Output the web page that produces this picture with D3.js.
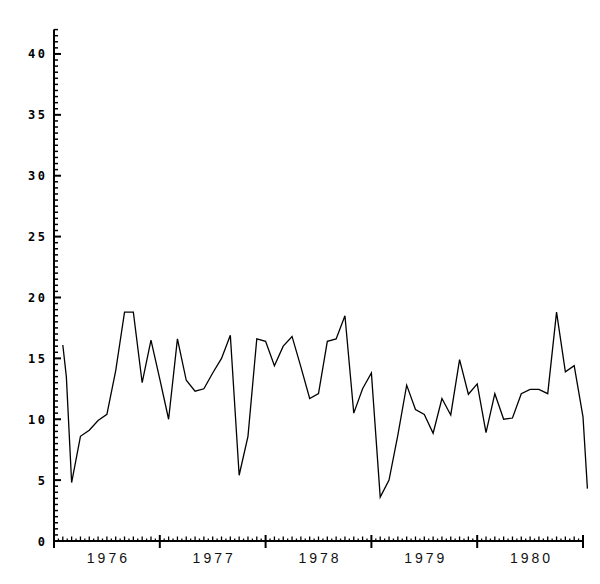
<!DOCTYPE html>
<html>
<head>
<meta charset="utf-8">
<script src="https://cdn.jsdelivr.net/npm/d3@7"></script>
<style>
  html, body { margin: 0; padding: 0; background: #fff; }
  svg { display: block; }
</style>
</head>
<body>
<svg id="chart" width="600" height="584"></svg>
<script>
// Months since January 1976 (end of month positions)
const months = [1, 1.4, 2, 3, 4, 5, 6, 7, 8, 9, 10, 11, 12,
  13, 14, 15, 16, 17, 18, 19, 20, 21, 22, 23, 24,
  25, 26, 27, 28, 29, 30, 31, 32, 33, 34, 35, 36,
  37, 38, 39, 40, 41, 42, 43, 44, 45, 46, 47, 48,
  49, 50, 51, 52, 53, 54, 55, 56, 57, 58, 59, 60, 60.5];
const values = [16.1, 13.5, 4.8, 8.6, 9.1, 9.9, 10.4, 14.0, 18.8, 18.8, 13.0, 16.5, 13.3,
  10.0, 16.6, 13.2, 12.3, 12.5, 13.8, 15.0, 16.9, 5.4, 8.6, 16.6, 16.4,
  14.4, 16.0, 16.8, 14.3, 11.7, 12.1, 16.4, 16.6, 18.5, 10.5, 12.5, 13.8,
  3.6, 5.0, 8.7, 12.8, 10.8, 10.4, 8.85, 11.7, 10.35, 14.9, 12.05, 12.9,
  8.9, 12.1, 10.0, 10.1, 12.1, 12.45, 12.45, 12.1, 18.8, 13.9, 14.4, 10.2, 4.3];
const years = ["1976", "1977", "1978", "1979", "1980"];
const yTickLabels = [0, 5, 10, 15, 20, 25, 30, 35, 40];

const svg = d3.select("#chart");
const x = d3.scaleLinear().domain([0, 60]).range([54, 583]);
const y = d3.scaleLinear().domain([0, 42]).range([541, 29.6]);

// Y axis: line, minor ticks every 0.5, major every 5
const yMinor = d3.range(0, 42.01, 0.5);
svg.append("line").attr("x1", x(0)).attr("x2", x(0)).attr("y1", y(0)).attr("y2", y(42))
  .attr("stroke", "#000").attr("stroke-width", 2);
svg.append("g").selectAll("line").data(yMinor).join("line")
  .attr("x1", x(0)).attr("x2", d => x(0) + (d % 5 === 0 ? 7 : 4))
  .attr("y1", d => y(d)).attr("y2", d => y(d))
  .attr("stroke", "#000").attr("stroke-width", d => d % 5 === 0 ? 2 : 1.5);
svg.append("g").selectAll("text").data(yTickLabels).join("text")
  .attr("x", 47.5).attr("y", d => y(d) + 4.5)
  .attr("text-anchor", "end")
  .attr("font-family", "DejaVu Sans Mono")
  .attr("font-weight", "bold")
  .attr("font-size", 12)
  .attr("letter-spacing", 2.5)
  .attr("fill", "#000")
  .text(d => d);

// X axis: line, half-month ticks, month ticks, year ticks
svg.append("line").attr("x1", x(0)).attr("x2", x(60)).attr("y1", y(0)).attr("y2", y(0))
  .attr("stroke", "#000").attr("stroke-width", 2);
const xMinor = d3.range(0, 60.01, 0.5);
svg.append("g").selectAll("line").data(xMinor).join("line")
  .attr("x1", d => x(d)).attr("x2", d => x(d))
  .attr("y1", d => d % 12 === 0 ? y(0) + 7 : y(0))
  .attr("y2", d => d % 12 === 0 ? y(0) - 6 : (d % 1 === 0 ? y(0) - 4.5 : y(0) - 2.5))
  .attr("stroke", "#000").attr("stroke-width", d => d % 12 === 0 ? 2 : 1.3);
svg.append("g").selectAll("text").data(years).join("text")
  .attr("x", (d, i) => x(i * 12 + 6) + 1.5)
  .attr("y", 563)
  .attr("text-anchor", "middle")
  .attr("font-family", "Liberation Sans")
  .attr("font-size", 14)
  .attr("letter-spacing", 3)
  .attr("fill", "#111")
  .text(d => d);

// Data line
const line = d3.line().x((d, i) => x(months[i])).y(d => y(d));
svg.append("path").datum(values)
  .attr("d", line)
  .attr("fill", "none")
  .attr("stroke", "#000")
  .attr("stroke-width", 1.3)
  .attr("stroke-linejoin", "miter");
</script>
</body>
</html>
